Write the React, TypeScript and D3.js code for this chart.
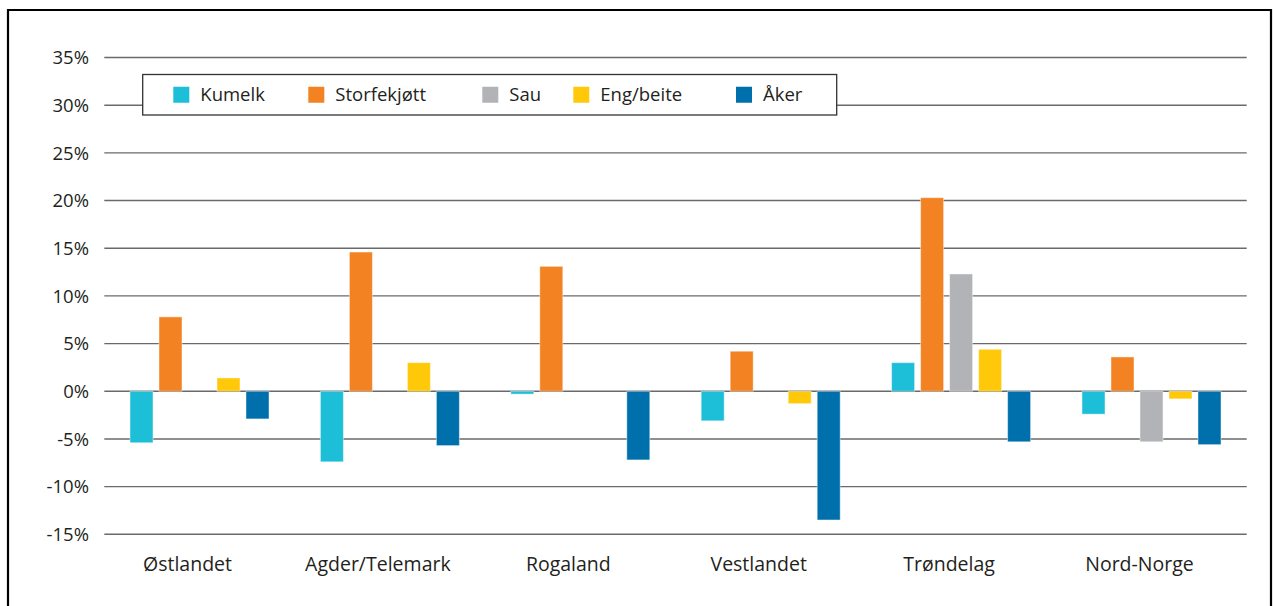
import React from 'react';
import * as d3 from 'd3';

const regions = ['Østlandet', 'Agder/Telemark', 'Rogaland', 'Vestlandet', 'Trøndelag', 'Nord-Norge'];
const series = ['Kumelk', 'Storfekjøtt', 'Sau', 'Eng/beite', 'Åker'];
const colors = ['#1dbed8', '#f38222', '#b2b3b6', '#ffc90a', '#0070ad'];

// percent change per region, one array per series (null = no bar)
const kumelk = [-5.4, -7.4, -0.3, -3.1, 3.0, -2.4];
const storfekjott = [7.8, 14.6, 13.1, 4.2, 20.3, 3.6];
const sau = [null, null, null, null, 12.3, -5.3];
const engBeite = [1.4, 3.0, null, -1.3, 4.4, -0.8];
const aker = [-2.9, -5.7, -7.2, -13.5, -5.3, -5.6];
const seriesValues = [kumelk, storfekjott, sau, engBeite, aker];

const yTicks = [-15, -10, -5, 0, 5, 10, 15, 20, 25, 30, 35];
// legend item offsets from the left of the legend box
const legendOffsets = [30.6, 165.6, 339.6, 430.6, 593.3];

const W = 1273;
const H = 606;
const plot = { left: 104.3, right: 1246.7, top: 57.5, bottom: 534.3 };
const font = '"Open Sans", "Noto Sans", sans-serif';
const ink = '#231f20';

export default function App() {
  const y = d3.scaleLinear().domain([-15, 35]).range([plot.bottom, plot.top]);
  const x0 = d3.scaleBand<string>().domain(regions).range([plot.left, plot.right]);
  const groupWidth = 139;
  const x1 = d3.scaleBand<string>().domain(series).range([0, groupWidth]).paddingInner(6 / 29);
  const groupOffset = (x0.bandwidth() - groupWidth) / 2;

  const legend = { x: 142.7, y: 74.5, w: 694, h: 40.5 };

  return (
    <svg width={W} height={H} style={{ position: 'fixed', left: 0, top: 0, background: '#fff' }} fontFamily={font}>
      {/* outer frame */}
      <path d={`M8,${H + 2} V10 H1271 V${H + 2}`} fill="none" stroke="#000" strokeWidth={2.2} />

      {/* grid + y labels */}
      {yTicks.map(t => (
        <g key={t}>
          <line x1={plot.left} x2={plot.right} y1={y(t)} y2={y(t)} stroke="#6a6a6a" strokeWidth={1.4} />
          <text x={89} y={y(t)} dy="0.36em" textAnchor="end" fontSize={18.5} fill={ink}>{t}%</text>
        </g>
      ))}

      {/* bars */}
      {regions.map((r, ri) => (
        <g key={r} transform={`translate(${x0(r)! + groupOffset},0)`}>
          {series.map((s, si) => {
            const v = seriesValues[si][ri];
            if (v == null) return null;
            const y0 = y(0);
            const yv = y(v);
            return (
              <rect key={s} x={x1(s)} width={x1.bandwidth()} y={Math.min(y0, yv)} height={Math.abs(yv - y0)}
                fill={colors[si]} stroke="rgba(255,255,255,0.45)" strokeWidth={1} />
            );
          })}
        </g>
      ))}

      {/* category labels */}
      {regions.map(r => (
        <text key={r} x={x0(r)! + x0.bandwidth() / 2 - 12} y={571} textAnchor="middle" fontSize={19.5} fill={ink}>{r}</text>
      ))}

      {/* legend */}
      <rect x={legend.x} y={legend.y} width={legend.w} height={legend.h} fill="#fff" stroke="#333" strokeWidth={1.3} />
      {series.map((s, i) => (
        <g key={s} transform={`translate(${legend.x + legendOffsets[i]},${legend.y + legend.h / 2})`}>
          <rect x={0} y={-8} width={16} height={16} fill={colors[i]} />
          <text x={27} y={0} dy="0.36em" fontSize={18.5} fill={ink}>{s}</text>
        </g>
      ))}
    </svg>
  );
}
